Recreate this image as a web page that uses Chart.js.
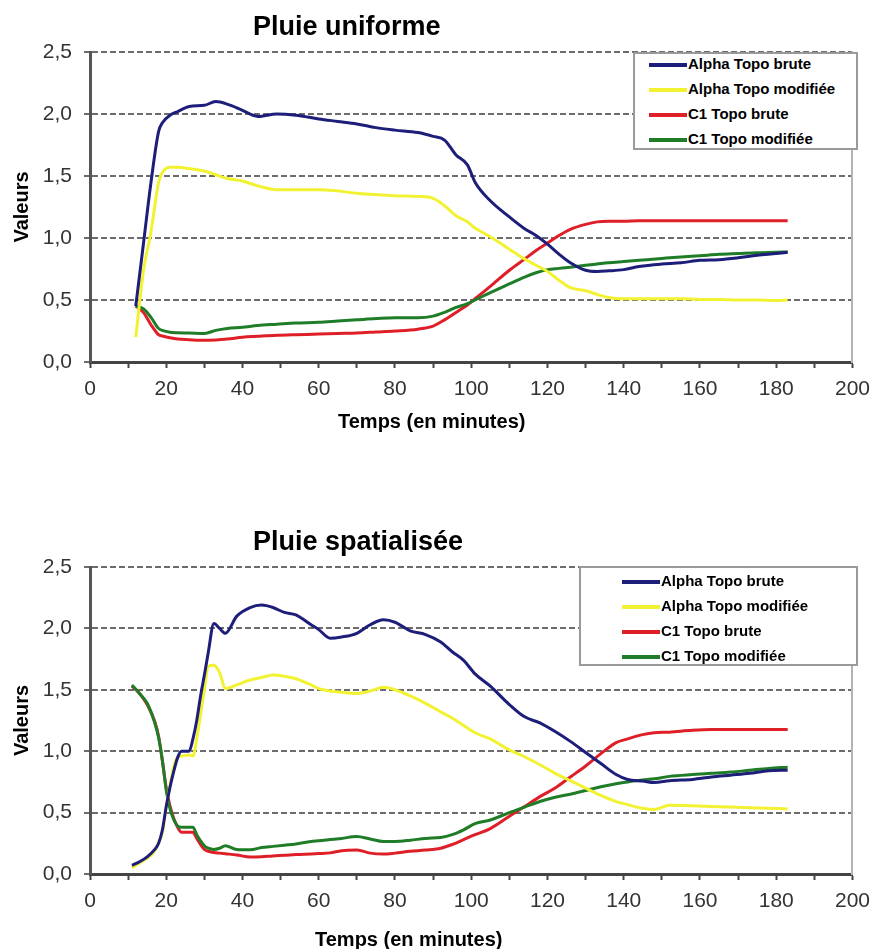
<!DOCTYPE html>
<html>
<head>
<meta charset="utf-8">
<title>Pluie uniforme / Pluie spatialisée</title>
<script src="https://cdn.jsdelivr.net/npm/chart.js@4.4.1/dist/chart.umd.min.js"></script>
<style>
  html, body { margin: 0; padding: 0; background: #fff; overflow: hidden; }
  body { width: 879px; height: 949px; position: relative; font-family: Arial, "Liberation Sans", sans-serif; }
  .holder { position: absolute; left: 0; width: 879px; }
  #holder-top { top: 0; height: 450px; }
  #holder-bottom { top: 515px; height: 434px; }
  .legend { position: absolute; background: #fff; border: 2px solid #9a9a9a; box-sizing: border-box; }
  .legend .row { position: absolute; height: 20px; line-height: 20px; white-space: nowrap;
                 font: bold 15px Arial, "Liberation Sans", sans-serif; color: #000; }
  .legend .swatch { display: inline-block; width: 38px; height: 4px; vertical-align: middle; margin-right: 1px; }
  #legend-top { left: 633px; top: 52px; width: 225px; height: 98px; }
  #legend-bottom { left: 579px; top: 51px; width: 279px; height: 100px; }
</style>
</head>
<body>
<div class="holder" id="holder-top">
  <canvas id="chart-top"></canvas>
  <div class="legend" id="legend-top"></div>
</div>
<div class="holder" id="holder-bottom">
  <canvas id="chart-bottom"></canvas>
  <div class="legend" id="legend-bottom"></div>
</div>
<script>
// series names and colours
var seriesNames = ['Alpha Topo brute', 'Alpha Topo modifiée', 'C1 Topo brute', 'C1 Topo modifiée'];
var seriesColours = ['#1d1d7a', '#f2f232', '#df1f28', '#1f7d27'];

// Pluie uniforme
var uniTimes = [12, 14, 16, 18, 19, 21, 23, 26, 30, 33, 36, 40, 44, 49, 54, 60, 65, 70, 75, 80,
  86, 90, 93, 96, 99, 101, 105, 110, 114, 117, 120, 123, 126, 130, 133, 136, 140, 144, 150, 155,
  160, 165, 170, 175, 180, 183];
var uniAlphaBrute = [0.45, 0.95, 1.45, 1.86, 1.93, 1.99, 2.02, 2.06, 2.07, 2.10, 2.08, 2.03, 1.98, 2.00, 1.99, 1.96, 1.94, 1.92, 1.89, 1.87,
  1.85, 1.82, 1.79, 1.67, 1.59, 1.45, 1.30, 1.17, 1.075, 1.02, 0.95, 0.87, 0.80, 0.74, 0.73, 0.735, 0.745, 0.77, 0.79, 0.80,
  0.82, 0.825, 0.84, 0.86, 0.875, 0.885];
var uniAlphaModif = [0.20, 0.73, 1.05, 1.45, 1.53, 1.57, 1.57, 1.56, 1.54, 1.51, 1.48, 1.46, 1.42, 1.39, 1.39, 1.39, 1.38, 1.36, 1.35, 1.34,
  1.335, 1.32, 1.26, 1.18, 1.13, 1.08, 1.01, 0.91, 0.83, 0.78, 0.73, 0.66, 0.60, 0.575, 0.545, 0.52, 0.51, 0.51, 0.51, 0.51,
  0.505, 0.505, 0.50, 0.50, 0.495, 0.50];
var uniC1Brute = [0.45, 0.40, 0.30, 0.22, 0.21, 0.195, 0.185, 0.18, 0.175, 0.178, 0.185, 0.20, 0.207, 0.215, 0.22, 0.225, 0.23, 0.234, 0.242, 0.25,
  0.265, 0.29, 0.34, 0.40, 0.46, 0.51, 0.61, 0.74, 0.83, 0.90, 0.96, 1.02, 1.07, 1.11, 1.13, 1.135, 1.135, 1.14, 1.14, 1.14,
  1.14, 1.14, 1.14, 1.14, 1.14, 1.14];
var uniC1Modif = [0.45, 0.43, 0.36, 0.27, 0.255, 0.24, 0.236, 0.234, 0.23, 0.255, 0.27, 0.28, 0.295, 0.305, 0.315, 0.32, 0.33, 0.34, 0.35, 0.357,
  0.357, 0.37, 0.40, 0.44, 0.47, 0.50, 0.56, 0.63, 0.685, 0.72, 0.745, 0.755, 0.765, 0.78, 0.79, 0.80, 0.81, 0.82, 0.835, 0.847,
  0.857, 0.868, 0.875, 0.882, 0.885, 0.887];

// Pluie spatialisée
var spaTimes = [11, 13, 15, 17, 18, 19, 20, 21, 22, 23, 24, 26, 27, 28, 29, 30, 31, 32.5, 34, 35.5,
  38.5, 42, 45, 48, 51, 54, 58, 60, 63, 66, 70, 73.5, 77, 80, 84, 88, 92, 95, 98, 101,
  105, 110, 114, 118, 122, 126, 130, 134, 138, 141, 145, 148, 152, 158, 163, 168, 173, 178, 183];
var spaAlphaBrute = [0.07, 0.10, 0.14, 0.20, 0.25, 0.36, 0.55, 0.71, 0.84, 0.95, 1.0, 1.0, 1.1, 1.25, 1.45, 1.62, 1.80, 2.04, 2.00, 1.96,
  2.10, 2.17, 2.19, 2.17, 2.13, 2.11, 2.03, 1.99, 1.92, 1.93, 1.96, 2.03, 2.07, 2.05, 1.98, 1.95, 1.89, 1.81, 1.74, 1.63,
  1.53, 1.38, 1.28, 1.23, 1.16, 1.08, 0.99, 0.90, 0.81, 0.77, 0.757, 0.745, 0.76, 0.77, 0.79, 0.805, 0.82, 0.84, 0.845];
var spaAlphaModif = [0.05, 0.09, 0.13, 0.19, 0.26, 0.34, 0.55, 0.72, 0.88, 0.95, 0.96, 0.97, 0.96, 1.10, 1.30, 1.50, 1.69, 1.70, 1.64, 1.51,
  1.54, 1.58, 1.60, 1.62, 1.61, 1.59, 1.54, 1.51, 1.49, 1.48, 1.47, 1.49, 1.52, 1.50, 1.45, 1.39, 1.32, 1.27, 1.21, 1.15,
  1.10, 1.01, 0.955, 0.89, 0.82, 0.76, 0.70, 0.64, 0.59, 0.565, 0.535, 0.525, 0.56, 0.555, 0.55, 0.545, 0.54, 0.535, 0.53];
var spaC1Brute = [1.53, 1.47, 1.38, 1.24, 1.12, 0.92, 0.70, 0.55, 0.45, 0.38, 0.34, 0.34, 0.34, 0.29, 0.24, 0.20, 0.185, 0.175, 0.17, 0.165,
  0.155, 0.138, 0.14, 0.147, 0.152, 0.158, 0.163, 0.166, 0.172, 0.19, 0.195, 0.17, 0.162, 0.17, 0.185, 0.195, 0.21, 0.24, 0.28, 0.32,
  0.37, 0.47, 0.55, 0.63, 0.70, 0.79, 0.88, 0.98, 1.07, 1.10, 1.135, 1.15, 1.155, 1.17, 1.176, 1.176, 1.176, 1.176, 1.176];
var spaC1Modif = [1.54, 1.47, 1.39, 1.23, 1.11, 0.92, 0.68, 0.53, 0.44, 0.39, 0.38, 0.38, 0.38, 0.32, 0.27, 0.23, 0.21, 0.20, 0.21, 0.23,
  0.20, 0.197, 0.215, 0.225, 0.235, 0.245, 0.265, 0.27, 0.28, 0.29, 0.305, 0.285, 0.265, 0.265, 0.275, 0.29, 0.297, 0.32, 0.36, 0.41,
  0.44, 0.50, 0.545, 0.59, 0.625, 0.65, 0.68, 0.71, 0.735, 0.75, 0.765, 0.775, 0.795, 0.81, 0.82, 0.83, 0.845, 0.86, 0.87];

var yTicks = [0, 0.5, 1, 1.5, 2, 2.5];
var xLabelStep = 20;

var fontFamily = 'Arial, "Liberation Sans", sans-serif';

// draws the chart title and x-axis title where the original sits them
var chartTitles = {
  id: 'chartTitles',
  afterDraw: function(chart, args, opts) {
    var ctx = chart.ctx, area = chart.chartArea;
    ctx.save();
    ctx.fillStyle = '#000';
    ctx.textAlign = 'left';
    ctx.textBaseline = 'alphabetic';
    ctx.font = 'bold 27px ' + fontFamily;
    ctx.fillText(opts.title, opts.titleX, area.top - 17);
    ctx.font = 'bold 20px ' + fontFamily;
    ctx.fillText(opts.xTitle, opts.xTitleX, area.bottom + opts.xTitleGap);
    ctx.restore();
  }
};

function buildDatasets(times, valueLists) {
  return valueLists.map(function(vals, i) {
    return {
      label: seriesNames[i],
      data: times.map(function(t, j) { return {x: t, y: vals[j]}; }),
      borderColor: seriesColours[i],
      backgroundColor: seriesColours[i],
      borderWidth: 3,
      pointRadius: 0,
      cubicInterpolationMode: 'monotone',
      order: [1, 2, 4, 3][i]
    };
  });
}

function buildLegend(chart, el, rowTop, swatchLeft) {
  chart.data.datasets.forEach(function(ds, i) {
    var row = document.createElement('div');
    row.className = 'row';
    row.style.left = swatchLeft + 'px';
    row.style.top = (rowTop + i * 25 - 10) + 'px';
    var sw = document.createElement('span');
    sw.className = 'swatch';
    sw.style.background = ds.borderColor;
    row.appendChild(sw);
    row.appendChild(document.createTextNode(ds.label));
    el.appendChild(row);
  });
}

function createChart(canvasId, times, valueLists, titles, padBottom) {
  var ctx = document.getElementById(canvasId).getContext('2d');
  return new Chart(ctx, {
    type: 'line',
    data: { datasets: buildDatasets(times, valueLists) },
    plugins: [chartTitles],
    options: {
      responsive: true,
      maintainAspectRatio: false,
      animation: false,
      layout: { padding: { top: 52, left: 0, right: 19, bottom: padBottom } },
      plugins: {
        legend: { display: false },
        tooltip: { enabled: false },
        chartTitles: titles
      },
      scales: {
        x: {
          type: 'linear',
          min: 0, max: 200,
          afterFit: function(s) { s.height = 60; },
          ticks: {
            stepSize: 10,
            autoSkip: false,
            maxRotation: 0,
            padding: 9,
            color: '#333',
            font: { family: fontFamily, size: 21 },
            callback: function(v) { return v % xLabelStep === 0 ? String(v) : ''; }
          },
          grid: { drawOnChartArea: false, drawTicks: true, tickLength: 6, tickColor: '#444', tickWidth: 2 },
          border: { color: '#444', width: 3 }
        },
        y: {
          min: 0, max: 2.5,
          afterFit: function(s) { s.width = 90; },
          afterBuildTicks: function(s) { s.ticks = yTicks.map(function(v) { return {value: v}; }); },
          ticks: {
            padding: 12,
            color: '#333',
            font: { family: fontFamily, size: 21 },
            callback: function(v) { return v.toFixed(1).replace('.', ','); }
          },
          grid: { color: '#6c6c6c', lineWidth: 2, tickLength: 6, tickColor: '#6c6c6c' },
          border: { color: '#555', width: 3, dash: [6, 3] },
          title: {
            display: true,
            text: 'Valeurs',
            color: '#000',
            font: { family: fontFamily, size: 20, weight: 'bold' },
            padding: { top: 10, bottom: 0 }
          }
        },
        yRight: {
          position: 'right',
          min: 0, max: 2.5,
          afterFit: function(s) { s.width = 0; },
          ticks: { display: false },
          grid: { drawOnChartArea: false, drawTicks: false },
          border: { color: '#b4b4b4', width: 2 }
        }
      }
    }
  });
}

var topChart = createChart('chart-top', uniTimes,
  [uniAlphaBrute, uniAlphaModif, uniC1Brute, uniC1Modif],
  { title: 'Pluie uniforme', titleX: 253, xTitle: 'Temps (en minutes)', xTitleX: 338, xTitleGap: 66 }, 28);
var bottomChart = createChart('chart-bottom', spaTimes,
  [spaAlphaBrute, spaAlphaModif, spaC1Brute, spaC1Modif],
  { title: 'Pluie spatialisée', titleX: 253, xTitle: 'Temps (en minutes)', xTitleX: 315, xTitleGap: 72 }, 15);

buildLegend(topChart, document.getElementById('legend-top'), 11, 14);
buildLegend(bottomChart, document.getElementById('legend-bottom'), 14, 41);
</script>
</body>
</html>
